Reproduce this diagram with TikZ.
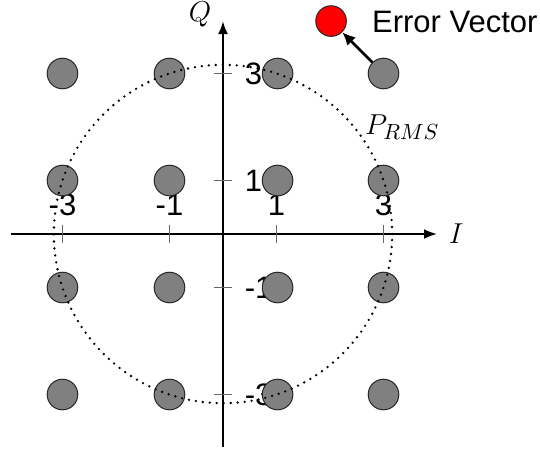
\documentclass[tikz,border=0pt]{standalone}
\usepackage{fontspec}
\setmainfont{Liberation Sans}
\usetikzlibrary{arrows.meta}
\definecolor{ptgray}{RGB}{128,128,128}
\definecolor{errred}{RGB}{255,0,0}
\tikzset{pt/.style = {circle, draw=black!85, line width=0.5pt, fill=ptgray,
                      inner sep=0, minimum size=15.3pt}}
\tikzset{axis/.style = {line width=1pt, -{Latex[length=6.5pt,width=5pt]}}}
\tikzset{tick/.style = {line width=0.5pt, black!60}}
\tikzset{rms/.style = {line width=1.3pt, line cap=round,
                       dash pattern=on 0pt off 3.5pt}}
\tikzset{errvec/.style = {line width=1.4pt, -{Latex[length=6.5pt,width=6pt]}}}
\tikzset{mathlbl/.style = {font=\fontsize{15}{18}\selectfont}}

\begin{document}
\begin{tikzpicture}[x=26.75pt, y=26.75pt, font=\fontsize{15.5}{18}\selectfont]
      \useasboundingbox (-4.168,-4.037) rectangle (5.925,4.374);
      \coordinate (iL) at (-3.96,0);
      \coordinate (iR) at (4.0,0);
      \coordinate (qB) at (0,-3.98);
      \coordinate (qT) at (0,3.98);
      \draw[axis] (iL) -- (iR);
      \draw[axis] (qB) -- (qT);
      \node[mathlbl] (I) at (4.36,0) {$I$};
      \node[font=\fontsize{14}{16}\selectfont, anchor=base] (Q)
        at (-0.43,3.97) {$Q$};
      % ticks on both axes
      \draw[tick] (-3,-0.16) -- (-3,0.16);
      \draw[tick] (-1,-0.16) -- (-1,0.16);
      \draw[tick] (1,-0.16) -- (1,0.16);
      \draw[tick] (3,-0.16) -- (3,0.16);
      \draw[tick] (-0.16,3) -- (0.17,3);
      \draw[tick] (-0.16,1) -- (0.17,1);
      \draw[tick] (-0.16,-1) -- (0.17,-1);
      \draw[tick] (-0.16,-3) -- (0.17,-3);
      \node (tx0) at (-3,0.54) {-3};
      \node (tx1) at (-1,0.54) {-1};
      \node (tx2) at (1,0.54) {1};
      \node (tx3) at (3,0.54) {3};
      \node[anchor=west, inner sep=0] (ty3) at (0.4,3) {3};
      \node[anchor=west, inner sep=0] (ty2) at (0.4,1) {1};
      \node[anchor=west, inner sep=0] (ty1) at (0.4,-1) {-1};
      \node[anchor=west, inner sep=0] (ty0) at (0.4,-3) {-3};
      % constellation points
      \node[pt] (s00) at (-3,-3) {};
      \node[pt] (s01) at (-3,-1) {};
      \node[pt] (s02) at (-3,1) {};
      \node[pt] (s03) at (-3,3) {};
      \node[pt] (s10) at (-1,-3) {};
      \node[pt] (s11) at (-1,-1) {};
      \node[pt] (s12) at (-1,1) {};
      \node[pt] (s13) at (-1,3) {};
      \node[pt] (s20) at (1.02,-3) {};
      \node[pt] (s21) at (1.02,-1) {};
      \node[pt] (s22) at (1.02,1) {};
      \node[pt] (s23) at (1.02,3) {};
      \node[pt] (s30) at (3,-3) {};
      \node[pt] (s31) at (3,-1) {};
      \node[pt] (s32) at (3,1) {};
      \node[pt] (s33) at (3,3) {};
      \draw[rms] (0,0) circle (3.162);
      \node[mathlbl] (prms) at (3.35,2.0) {$P_{RMS}$};
      % error vector
      \node[pt, fill=errred] (err) at (2.02,3.98) {};
      \draw[errvec] (s33) -- (err);
      \node[anchor=west, inner sep=0] (errlbl) at (2.78,3.96) {Error Vector};
    \end{tikzpicture}
\end{document}
